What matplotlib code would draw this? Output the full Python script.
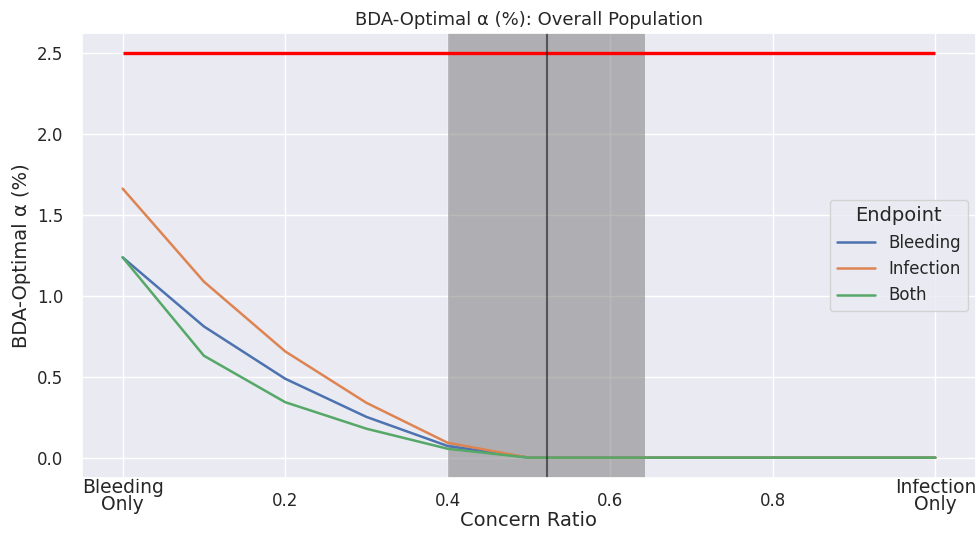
import matplotlib
matplotlib.use("Agg")
import matplotlib.pyplot as plt
import seaborn as sns

sns.set_theme(style="darkgrid")

# concern ratio grid and optimal alpha per endpoint
concern_ratio = [0.0, 0.1, 0.2, 0.3, 0.4, 0.5, 0.6, 0.7, 0.8, 0.9, 1.0]
alpha_bleeding = [1.238, 0.811, 0.488, 0.252, 0.072, 0.0, 0.0, 0.0, 0.0, 0.0, 0.0]
alpha_infection = [1.663, 1.088, 0.657, 0.339, 0.092, 0.0, 0.0, 0.0, 0.0, 0.0, 0.0]
alpha_both = [1.238, 0.630, 0.343, 0.179, 0.055, 0.0, 0.0, 0.0, 0.0, 0.0, 0.0]

standard_alpha = 2.5
ratio_low, ratio_high = 0.4, 0.6425
ratio_point = 0.522

xticks = [0.0, 0.2, 0.4, 0.6, 0.8, 1.0]
xticklabels = ["Bleeding\nOnly", "0.2", "0.4", "0.6", "0.8", "Infection\nOnly"]

fig = plt.figure(figsize=(9.76, 5.4), dpi=100)
ax = fig.add_axes([0.084, 0.115, 0.916, 0.824])

ax.plot(concern_ratio, alpha_bleeding, label="Bleeding", lw=1.8)
ax.plot(concern_ratio, alpha_infection, label="Infection", lw=1.8)
ax.plot(concern_ratio, alpha_both, label="Both", lw=1.8)

ax.hlines(standard_alpha, concern_ratio[0], concern_ratio[-1], color="red", lw=2.4)
ax.axvspan(ratio_low, ratio_high, color="gray", alpha=0.55, lw=0)
ax.axvline(ratio_point, color="k", alpha=0.6, lw=1.5)

ax.set_xticks(xticks)
ax.set_xticklabels(xticklabels)
ax.tick_params(axis="both", length=0, labelsize=12)
ax.tick_params(axis="y", pad=13.5)

# two-line end labels sit right under the axes, numbers a bit lower
for tick, text in zip(ax.xaxis.get_major_ticks(), xticklabels):
    if "\n" in text:
        tick.set_pad(0)
        tick.label1.set_fontsize(13.5)
        tick.label1.set_linespacing(0.85)
    else:
        tick.set_pad(10.5)

ax.set_xlabel("Concern Ratio", fontsize=14, labelpad=-2)
ax.set_ylabel("BDA-Optimal α (%)", fontsize=14)
ax.set_title("BDA-Optimal α (%): Overall Population", fontsize=13)
ax.legend(title="Endpoint", loc="center right", fontsize=12, title_fontsize=14,
          handlelength=2.3, handletextpad=0.8)

fig.savefig("out.png", dpi=100)
